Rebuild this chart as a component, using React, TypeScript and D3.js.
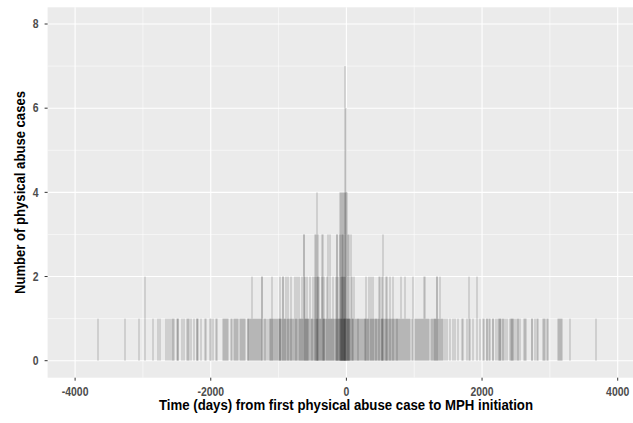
import React from 'react';
import * as d3 from 'd3';

// days (relative to MPH initiation) holding 1, 2, 3, 4, 6 and 7 physical abuse cases
const countOne = [
  -3655, -3260, -3054, -2845, -2783, -2749, -2667, -2636, -2603, -2577, -2554, -2536, -2503, -2490,
  -2480, -2428, -2399, -2351, -2331, -2320, -2291, -2247, -2202, -2197, -2184, -2138, -2089, -2071,
  -2012, -2001, -1967, -1917, -1905, -1815, -1800, -1790, -1775, -1766, -1741, -1702, -1692, -1655,
  -1643, -1625, -1618, -1595, -1569, -1553, -1535, -1524, -1505, -1488, -1455, -1445, -1430, -1418,
  -1405, -1380, -1365, -1350, -1338, -1320, -1305, -1290, -1275, -1262, -1220, -1196, -1180, -1160,
  -1131, -1120, -1107, -1095, -1083, -1070, -1059, -1040, -1024, -1010, -995, -985, -972, -960,
  -948, -921, -911, -900, -880, -866, -845, -836, -810, -798, -785, -770, -750, -740, -720, -690,
  -680, -668, -648, -636, -613, -600, -592, -580, -571, -560, -545, -525, -512, -500, -476, -441,
  -434, -426, -396, -386, -375, -345, -336, -325, -314, -304, -280, -262, -250, -230, -220, -210,
  -200, -182, -172, -160, -142, -125, -115, -108, -98, -84, -76, -68, -52, -38, -30, -24, -16, -10,
  4, 10, 18, 26, 35, 44, 52, 60, 80, 92, 104, 125, 138, 150, 164, 178, 190, 205, 218, 230, 242, 255,
  268, 280, 291, 300, 312, 321, 345, 356, 380, 390, 408, 418, 430, 441, 452, 465, 485, 505, 518, 528,
  536, 555, 566, 586, 605, 615, 626, 648, 660, 672, 684, 703, 716, 728, 740, 752, 764, 776, 790, 818,
  830, 845, 880, 896, 912, 928, 945, 964, 1005, 1020, 1038, 1055, 1070, 1085, 1100, 1118, 1130, 1175,
  1190, 1205, 1222, 1240, 1256, 1270, 1285, 1300, 1312, 1325, 1352, 1366, 1392, 1405, 1420, 1454,
  1488, 1528, 1567, 1601, 1650, 1700, 1724, 1773, 1822, 1871, 1970, 2019, 2036, 2069, 2077, 2107,
  2119, 2155, 2166, 2202, 2240, 2244, 2262, 2265, 2274, 2304, 2313, 2333, 2363, 2405, 2422, 2437,
  2440, 2452, 2471, 2500, 2530, 2535, 2560, 2613, 2633, 2649, 2732, 2738, 2780, 2806, 2830, 2899,
  2919, 2929, 2958, 2978, 3125, 3137, 3150, 3167, 3175, 3303, 3673,
];
const countTwo = [
  -2964, -1396, -1249, -1238, -1101, -979, -940, -930, -891, -856, -822, -762, -733, -702, -659,
  -610, -576, -537, -488, -464, -438, -414, -405, -365, -330, -291, -193, -153, -119, -80, -70, -55,
  -40, -28, 78, 113, 284, 333, 369, 397, 476, 495, 520, 577, 594, 637, 692, 805, 864, 986, 1143,
  1159, 1331, 1339, 1380, 1812, 1921,
];
const countThree = [
  -625, -620, -463, -452, -417, -357, -341, -274, -242, -137, -134, -95, -60, -48, 24, 38, 71, 544,
];
const countFour = [-429, -90, -80, -65, -50, -35, -15, -5, 2];
const countSix = [-12];
const countSeven = [-28];

const xTicks = [-4000, -2000, 0, 2000, 4000];
const xMinor = [-3000, -1000, 1000, 3000];
const yTicks = [0, 2, 4, 6, 8];
const yMinor = [1, 3, 5, 7];

const W = 633;
const H = 423;
const panel = { left: 47.6, right: 645, top: 7.3, bottom: 377.7 };

const bins = [
  ...countOne.map((day) => ({ day, n: 1 })),
  ...countTwo.map((day) => ({ day, n: 2 })),
  ...countThree.map((day) => ({ day, n: 3 })),
  ...countFour.map((day) => ({ day, n: 4 })),
  ...countSix.map((day) => ({ day, n: 6 })),
  ...countSeven.map((day) => ({ day, n: 7 })),
];

export default function App() {
  const x = d3.scaleLinear().domain([-4000, 4000]).range([75.1, 617.7]);
  const y = d3.scaleLinear().domain([0, 8]).range([360.7, 24]);
  const pw = panel.right - panel.left;
  const ph = panel.bottom - panel.top;
  const font = 'Arial, "Liberation Sans", sans-serif';

  return (
    <svg
      width={W}
      height={H}
      style={{ position: 'absolute', left: 0, top: 0, background: '#fff' }}
    >
      <rect x={panel.left} y={panel.top} width={pw} height={ph} fill="#ebebeb" />
      {xMinor.map((t) => (
        <line key={'xm' + t} x1={x(t)} x2={x(t)} y1={panel.top} y2={panel.bottom} stroke="#fff" strokeWidth={0.55} />
      ))}
      {yMinor.map((t) => (
        <line key={'ym' + t} x1={panel.left} x2={panel.right} y1={y(t)} y2={y(t)} stroke="#fff" strokeWidth={0.55} />
      ))}
      {xTicks.map((t) => (
        <line key={'xg' + t} x1={x(t)} x2={x(t)} y1={panel.top} y2={panel.bottom} stroke="#fff" strokeWidth={1.1} />
      ))}
      {yTicks.map((t) => (
        <line key={'yg' + t} x1={panel.left} x2={panel.right} y1={y(t)} y2={y(t)} stroke="#fff" strokeWidth={1.1} />
      ))}

      {bins.map((b, i) => (
        <rect
          key={i}
          x={Math.round(x(b.day)) - 0.5}
          width={1}
          y={y(b.n)}
          height={y(0) - y(b.n)}
          fill="#000"
          fillOpacity={0.24}
        />
      ))}

      {xTicks.map((t) => (
        <g key={'xt' + t}>
          <line x1={x(t)} x2={x(t)} y1={panel.bottom} y2={panel.bottom + 3} stroke="#333" strokeWidth={1} />
          <text
            transform={`translate(${x(t)},${395.5}) scale(0.87,1)`}
            textAnchor="middle"
            fontFamily={font}
            fontWeight="bold"
            fontSize={12}
            fill="#4d4d4d"
          >
            {t}
          </text>
        </g>
      ))}
      {yTicks.map((t) => (
        <g key={'yt' + t}>
          <line x1={panel.left - 3} x2={panel.left} y1={y(t)} y2={y(t)} stroke="#333" strokeWidth={1} />
          <text
            transform={`translate(${38.5},${y(t) + 4.3}) scale(0.87,1)`}
            textAnchor="end"
            fontFamily={font}
            fontWeight="bold"
            fontSize={12}
            fill="#4d4d4d"
          >
            {t}
          </text>
        </g>
      ))}

      <text
        x={346}
        y={410}
        textAnchor="middle"
        fontFamily={font}
        fontWeight="bold"
        fontSize={14}
        fill="#000"
        textLength={374}
        lengthAdjust="spacingAndGlyphs"
      >
        Time (days) from first physical abuse case to MPH initiation
      </text>
      <text
        transform={`translate(25,${(panel.top + panel.bottom) / 2}) rotate(-90)`}
        textAnchor="middle"
        fontFamily={font}
        fontWeight="bold"
        fontSize={14}
        fill="#000"
        textLength={203}
        lengthAdjust="spacingAndGlyphs"
      >
        Number of physical abuse cases
      </text>
    </svg>
  );
}
